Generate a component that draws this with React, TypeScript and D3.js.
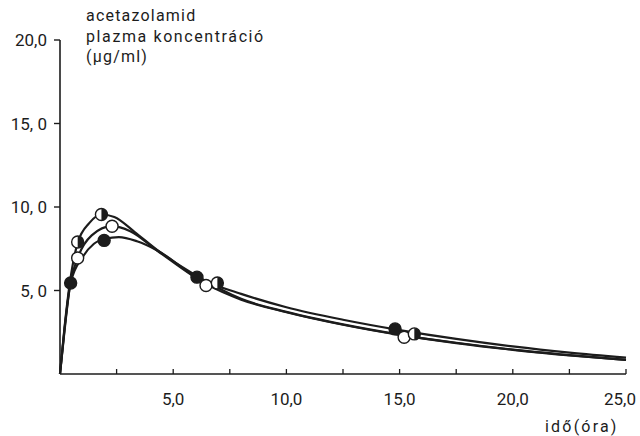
import React from 'react';
import * as d3 from 'd3';

// tick values and labels
const yTicks = [5, 10, 15, 20];
const yTickLabels = ['5, 0', '10, 0', '15, 0', '20,0'];
const xMinorTicks = [2.5, 5, 7.5, 10, 12.5, 15, 17.5, 20, 22.5, 25];
const xTicks = [5, 10, 15, 20, 25];
const xTickLabels = ['5,0', '10,0', '15,0', '20,0', '25,0'];
const titleLines = ['acetazolamid', 'plazma koncentráció', '(\u00b5g/ml)'];

// fitted curves: [time (h), concentration (ug/ml)]
const filledCurve: [number, number][] = [
  [0, 0], [0.2, 2.6], [0.47, 5.45], [1, 7.0], [1.5, 7.8], [2, 8.1], [2.6, 8.2],
  [3.4, 7.95], [4.3, 7.4], [6.05, 5.78], [8, 4.8], [10, 4.0], [12.5, 3.25],
  [15, 2.63], [17.5, 2.1], [20, 1.65], [22.5, 1.28], [25, 0.98],
];
const openCurve: [number, number][] = [
  [0, 0], [0.2, 2.7], [0.45, 5.4], [0.78, 6.95], [1.4, 8.3], [2.3, 8.85], [3.1, 8.55],
  [4.3, 7.38], [6.5, 5.35], [8, 4.45], [10, 3.7], [12.5, 2.95], [15, 2.34],
  [17.5, 1.85], [20, 1.45], [22.5, 1.12], [25, 0.85],
];
const halfCurve: [number, number][] = [
  [0, 0], [0.2, 2.8], [0.45, 5.6], [0.78, 7.85], [1.3, 9.05], [1.83, 9.55], [2.4, 9.4],
  [3.3, 8.5], [4.3, 7.42], [6.2, 5.75], [8, 4.5], [10, 3.72], [12.5, 2.97],
  [15, 2.36], [17.5, 1.87], [20, 1.46], [22.5, 1.13], [25, 0.84],
];

// measured points
const filledPoints: [number, number][] = [[0.47, 5.45], [1.95, 8.0], [6.05, 5.8], [14.8, 2.7]];
const openPoints: [number, number][] = [[0.78, 6.95], [2.3, 8.85], [6.45, 5.3], [15.2, 2.2]];
const halfPoints: [number, number][] = [[0.78, 7.9], [1.83, 9.55], [6.95, 5.45], [15.65, 2.4]];

const W = 640;
const H = 436;
const ink = '#1c1c1c';
const font = 'Roboto, "DejaVu Sans", sans-serif';

const App: React.FC = () => {
  const x = d3.scaleLinear().domain([0, 25]).range([60, 626]);
  const y = d3.scaleLinear().domain([0, 20]).range([374, 40]);

  const line = d3.line<[number, number]>()
    .x(d => x(d[0]))
    .y(d => y(d[1]))
    .curve(d3.curveMonotoneX);

  const r = 6;
  // right half of a circle, filled
  const halfArc = (cx: number, cy: number) =>
    `M${cx},${cy - r} A${r},${r} 0 0 1 ${cx},${cy + r} Z`;

  return (
    <div style={{ position: 'absolute', left: 0, top: 0 }}>
      <svg width={W} height={H} style={{ display: 'block', background: '#fff' }}>
        {/* title */}
        {titleLines.map((t, i) => (
          <text key={t} x={86} y={21 + i * 20.5} fontFamily={font} fontSize={16}
            letterSpacing={i === 1 ? 1.6 : 1.2} fill={ink}>{t}</text>
        ))}

        {/* y axis */}
        <line x1={x(0)} x2={x(0)} y1={y(20)} y2={y(0)} stroke={ink} strokeWidth={1.6} />
        {yTicks.map((v, i) => (
          <g key={v}>
            <line x1={x(0) - 6} x2={x(0)} y1={y(v)} y2={y(v)} stroke={ink} strokeWidth={1.4} />
            <text x={47} y={y(v)} dy="0.38em" textAnchor="end" fontFamily={font}
              fontSize={17} fill={ink}>{yTickLabels[i]}</text>
          </g>
        ))}

        {/* x axis */}
        <line x1={x(0)} x2={x(25)} y1={y(0)} y2={y(0)} stroke={ink} strokeWidth={1.6} />
        {xMinorTicks.map(v => (
          <line key={v} x1={x(v)} x2={x(v)} y1={y(0)} y2={y(0) - 5} stroke={ink} strokeWidth={1.3} />
        ))}
        {xTicks.map((v, i) => (
          <text key={v} x={Math.min(x(v), 620)} y={405} textAnchor="middle" fontFamily={font}
            fontSize={17} fill={ink}>{xTickLabels[i]}</text>
        ))}
        <text x={545} y={432} fontFamily={font} fontSize={16} letterSpacing={2.2} fill={ink}>idő(óra)</text>

        {/* curves */}
        {[filledCurve, openCurve, halfCurve].map((c, i) => (
          <path key={i} d={line(c) || ''} fill="none" stroke={ink} strokeWidth={2.2} />
        ))}

        {/* markers */}
        {filledPoints.map((p, i) => (
          <circle key={'f' + i} cx={x(p[0])} cy={y(p[1])} r={r} fill={ink} stroke={ink} strokeWidth={1.4} />
        ))}
        {openPoints.map((p, i) => (
          <circle key={'o' + i} cx={x(p[0])} cy={y(p[1])} r={r} fill="#fff" stroke={ink} strokeWidth={1.4} />
        ))}
        {halfPoints.map((p, i) => (
          <g key={'h' + i}>
            <circle cx={x(p[0])} cy={y(p[1])} r={r} fill="#fff" stroke={ink} strokeWidth={1.4} />
            <path d={halfArc(x(p[0]), y(p[1]))} fill={ink} />
          </g>
        ))}
      </svg>
    </div>
  );
};

export default App;
